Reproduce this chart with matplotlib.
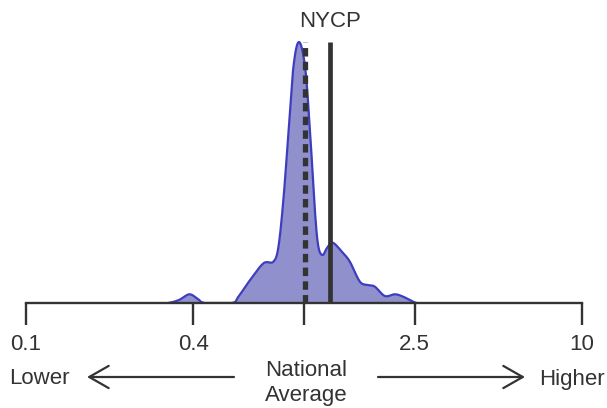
import numpy as np
import matplotlib
matplotlib.use("Agg")
import matplotlib.pyplot as plt

plt.rcParams['font.family'] = ['Liberation Sans', 'DejaVu Sans']

# density curve (ratio to national average, relative density)
ratio = [0.324, 0.355, 0.387, 0.415, 0.441, 0.550, 0.580, 0.640, 0.715, 0.776, 0.809,
         0.843, 0.879, 0.916, 0.959, 1.009, 1.052, 1.096, 1.127, 1.167, 1.208,
         1.268, 1.368, 1.462, 1.589, 1.702, 1.799, 1.954, 2.123, 2.275, 2.541]
density = [0, 3, 8.7, 4, 0, 0, 6, 23, 39.7, 41.3, 56,
           103, 170, 236, 261, 236, 170, 90, 56, 48, 54.7,
           60.3, 51.3, 41.3, 21.3, 18, 16.3, 7, 8.7, 6.3, 0]
national_avg = 1.01
nycp_value = 1.24
nycp_label = "NYCP"
tick_values = [0.1, 0.4, 1, 2.5, 10]
tick_labels = ['0.1', '0.4', '', '2.5', '10']

DARK = '#333333'

def catmull_rom(x, y, n=12):
    x = np.asarray(x, float); y = np.asarray(y, float)
    xp = np.concatenate([[2*x[0]-x[1]], x, [2*x[-1]-x[-2]]])
    yp = np.concatenate([[y[0]], y, [y[-1]]])
    xs, ys = [], []
    for i in range(1, len(xp)-2):
        t = np.linspace(0, 1, n, endpoint=False)
        for arr, out in ((xp, xs), (yp, ys)):
            p0, p1, p2, p3 = arr[i-1], arr[i], arr[i+1], arr[i+2]
            out.append(0.5*((2*p1) + (-p0+p2)*t + (2*p0-5*p1+4*p2-p3)*t**2 + (-p0+3*p1-3*p2+p3)*t**3))
    xs.append([x[-1]]); ys.append([y[-1]])
    return np.concatenate(xs), np.clip(np.concatenate(ys), 0, None)

lx, yy = catmull_rom(np.log10(ratio), density)
xx = 10**lx

fig = plt.figure(figsize=(6.07, 4.08), dpi=100)
ax = fig.add_axes([26/607, 105/408, 556/607, 273/408])
ax.set_xscale('log')
ax.set_xlim(0.1, 10)
ax.set_ylim(0, 273)

ax.fill_between(xx, 0, yy, color='#9090cc', lw=0, zorder=1)
ax.plot(xx, yy, color='#3d3dbf', lw=1.6, zorder=2)

peak = max(density)
ax.vlines(national_avg, 0, peak, color=DARK, lw=3.8, linestyles=[(0, (1.6, 1.0))], zorder=3)
ax.vlines(nycp_value, 0, peak, color=DARK, lw=3.4, zorder=3)
ax.text(nycp_value, 282, nycp_label, ha='center', va='center', fontsize=16, color=DARK, clip_on=False)

for s in ['top', 'right', 'left']:
    ax.spines[s].set_visible(False)
ax.spines['bottom'].set_color(DARK)
ax.spines['bottom'].set_linewidth(1.7)
ax.set_yticks([])
ax.xaxis.set_minor_locator(matplotlib.ticker.NullLocator())
ax.set_xticks(tick_values)
ax.set_xticklabels(tick_labels)
ax.tick_params(axis='x', direction='out', length=16, width=1.7, color=DARK,
               labelsize=16, labelcolor=DARK, pad=6)

H = 408
fig.text(39.5/607, 1 - 379/H, 'Lower', ha='center', va='center', fontsize=16, color=DARK)
fig.text(572/607, 1 - 379/H, 'Higher', ha='center', va='center', fontsize=16, color=DARK)
fig.text(306/607, 1 - 383/H, 'National\nAverage', ha='center', va='center', fontsize=16, color=DARK)

arrow_kw = dict(arrowstyle='->,head_length=0.7,head_width=0.4', color=DARK, lw=1.6,
                shrinkA=0, shrinkB=0, mutation_scale=20)
ax.annotate('', xy=(87, H-377), xytext=(234, H-377), xycoords='figure pixels',
            textcoords='figure pixels', arrowprops=arrow_kw, annotation_clip=False)
ax.annotate('', xy=(525, H-377), xytext=(378, H-377), xycoords='figure pixels',
            textcoords='figure pixels', arrowprops=arrow_kw, annotation_clip=False)

fig.savefig('out.png', dpi=100)
